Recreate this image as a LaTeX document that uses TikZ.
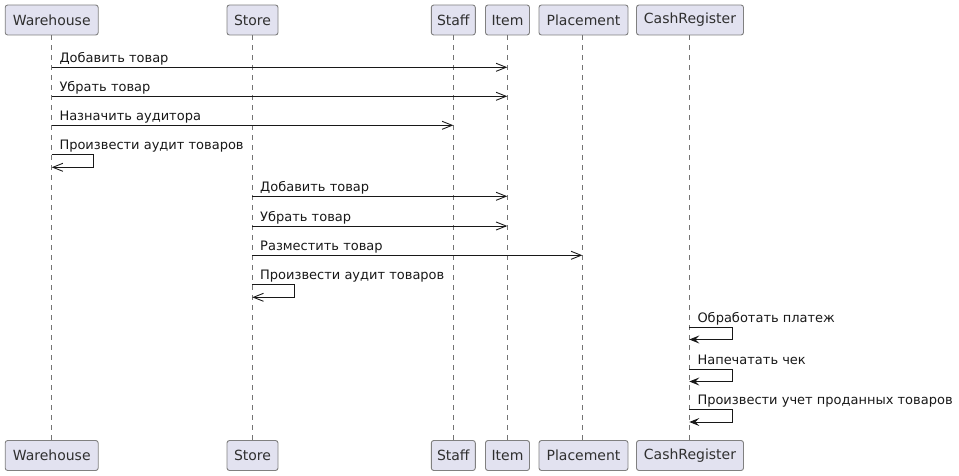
\documentclass[tikz,border=0pt]{standalone}
\usepackage{fontspec}
\setmainfont{DejaVu Sans}
\usetikzlibrary{arrows.meta}
\definecolor{boxfill}{HTML}{E2E2F0}
\definecolor{boxline}{HTML}{181818}
\begin{document}
\begin{tikzpicture}[x=1pt,y=-1pt,
  part/.style={draw=boxline!55,line width=0.9pt,fill=boxfill,rounded corners=2.5pt,minimum height=30pt,inner sep=0pt,text=boxline!90,font=\fontsize{14}{16}\selectfont},
  life/.style={draw=boxline!60,line width=0.6pt,dash pattern=on 5pt off 5pt},
  msgo/.style={draw=boxline,line width=0.9pt,-{Straight Barb[length=10pt,width=8pt,line width=0.9pt]}},
  msgf/.style={draw=boxline,line width=0.9pt,-{Stealth[length=10pt,width=8pt,inset=4pt]}},
  lbl/.style={anchor=base west,inner sep=0pt,text=boxline,font=\fontsize{13}{15}\selectfont}]
\useasboundingbox (0,0) rectangle (959,476);
% lifelines (drawn first, under the boxes)
\coordinate (Wx) at (51.7,0);
\coordinate (Sx) at (252.3,0);
\coordinate (Fx) at (453.3,0);
\coordinate (Ix) at (507.3,0);
\coordinate (Px) at (582.3,0);
\coordinate (Cx) at (689.3,0);
% top participants
\node[part,minimum width=93pt] (Wt) at (51.7,20) {Warehouse};
\node[part,minimum width=51pt] (St) at (252.5,20) {Store};
\node[part,minimum width=44pt] (Ft) at (453.3,20) {Staff};
\node[part,minimum width=44pt] (It) at (507.5,20) {Item};
\node[part,minimum width=89pt] (Pt) at (583.5,20) {Placement};
\node[part,minimum width=107pt] (Ct) at (690,20) {CashRegister};
% bottom participants
\node[part,minimum width=93pt] (Wb) at (51.7,455.5) {Warehouse};
\node[part,minimum width=51pt] (Sb) at (252.5,455.5) {Store};
\node[part,minimum width=44pt] (Fb) at (453.3,455.5) {Staff};
\node[part,minimum width=44pt] (Ib) at (507.5,455.5) {Item};
\node[part,minimum width=89pt] (Pb) at (583.5,455.5) {Placement};
\node[part,minimum width=107pt] (Cb) at (690,455.5) {CashRegister};
% lifelines
\draw[life] (Wx |- Wt.south) -- (Wx |- Wb.north);
\draw[life] (Sx |- St.south) -- (Sx |- Sb.north);
\draw[life] (Fx |- Ft.south) -- (Fx |- Fb.north);
\draw[life] (Ix |- It.south) -- (Ix |- Ib.north);
\draw[life] (Px |- Pt.south) -- (Px |- Pb.north);
\draw[life] (Cx |- Ct.south) -- (Cx |- Cb.north);
% Warehouse messages
\coordinate (wa1) at (51.7,67.3);  \coordinate (ia1) at (507.3,67.3);
\coordinate (wa2) at (51.7,96.3);  \coordinate (ia2) at (507.3,96.3);
\coordinate (wa3) at (51.7,125.3); \coordinate (fa3) at (453.3,125.3);
\coordinate (wa4) at (51.7,154.3);
\draw[msgo] (wa1) -- (ia1);
\node[lbl] (l1) at (59.3,62.3) {Добавить товар};
\draw[msgo] (wa2) -- (ia2);
\node[lbl] (l2) at (59.3,91.3) {Убрать товар};
\draw[msgo] (wa3) -- (fa3);
\node[lbl] (l3) at (59.3,120.3) {Назначить аудитора};
\draw[msgo] (wa4) -- ++(42,0) -- ++(0,13) -- ++(-42,0);
\node[lbl] (l4) at (59.3,149.3) {Произвести аудит товаров};
% Store messages
\coordinate (sa1) at (252.3,196.3); \coordinate (ib1) at (507.3,196.3);
\coordinate (sa2) at (252.3,226);   \coordinate (ib2) at (507.3,226);
\coordinate (sa3) at (252.3,255.3); \coordinate (pb3) at (582.3,255.3);
\coordinate (sa4) at (252.3,284.3);
\draw[msgo] (sa1) -- (ib1);
\node[lbl] (l5) at (260,191.3) {Добавить товар};
\draw[msgo] (sa2) -- (ib2);
\node[lbl] (l6) at (260,221) {Убрать товар};
\draw[msgo] (sa3) -- (pb3);
\node[lbl] (l7) at (260,250.3) {Разместить товар};
\draw[msgo] (sa4) -- ++(42,0) -- ++(0,13) -- ++(-42,0);
\node[lbl] (l8) at (260,279.3) {Произвести аудит товаров};
% CashRegister messages
\coordinate (ca1) at (689.3,327);
\coordinate (ca2) at (689.3,369);
\coordinate (ca3) at (689.3,409.5);
\draw[msgf] (ca1) -- ++(43,0) -- ++(0,12.5) -- ++(-43,0);
\node[lbl] (l9) at (697.3,322) {Обработать платеж};
\draw[msgf] (ca2) -- ++(43,0) -- ++(0,12.5) -- ++(-43,0);
\node[lbl] (l10) at (697.3,364) {Напечатать чек};
\draw[msgf] (ca3) -- ++(43,0) -- ++(0,12.5) -- ++(-43,0);
\node[lbl] (l11) at (697.3,404.5) {Произвести учет проданных товаров};
\end{tikzpicture}
\end{document}
